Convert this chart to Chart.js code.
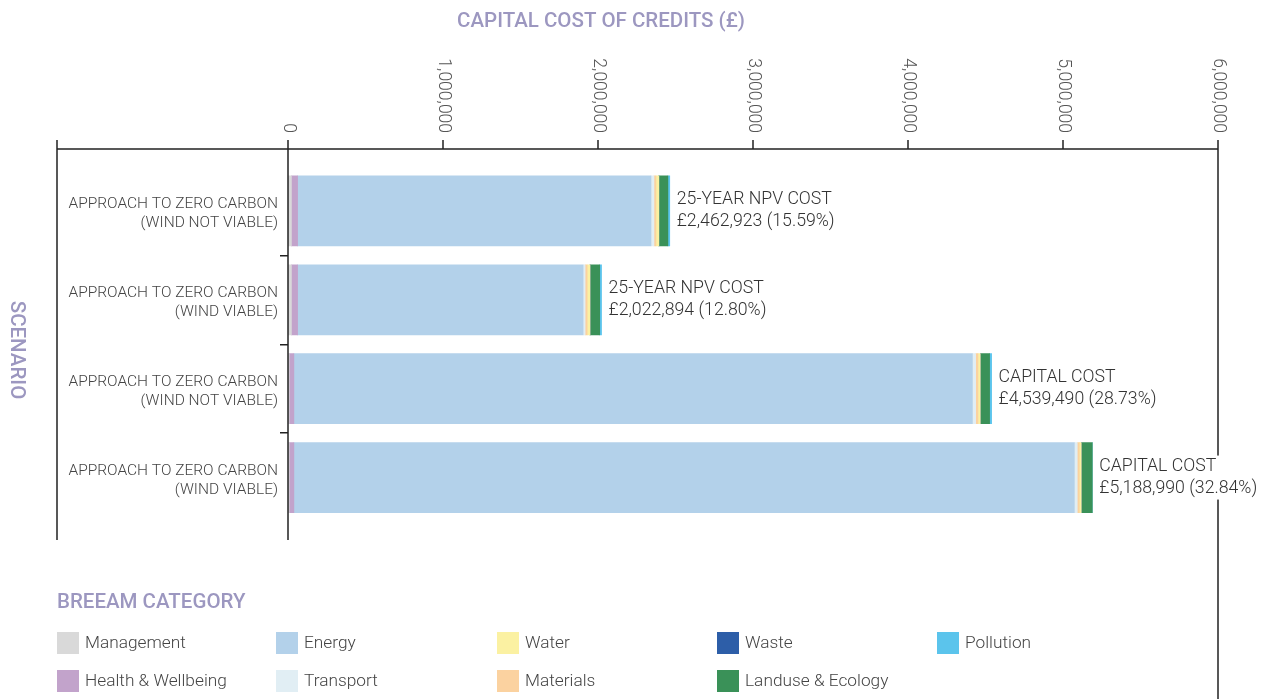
<!DOCTYPE html>
<html>
<head>
<meta charset="utf-8">
<script src="https://cdn.jsdelivr.net/npm/chart.js@4"></script>
<style>
  html, body { margin: 0; padding: 0; background: #fff; }
  #wrap { width: 1261px; height: 699px; position: relative; }
</style>
</head>
<body>
<div id="wrap"><canvas id="costChart"></canvas></div>
<script>
// scenarios (one bar each)
const categories = [
  ['APPROACH TO ZERO CARBON', '(WIND NOT VIABLE)'],
  ['APPROACH TO ZERO CARBON', '(WIND VIABLE)'],
  ['APPROACH TO ZERO CARBON', '(WIND NOT VIABLE)'],
  ['APPROACH TO ZERO CARBON', '(WIND VIABLE)']
];

// BREEAM category costs (£)
const management = [22000, 22000, 8000, 8000];
const health = [40000, 40000, 30000, 30000];
const energy = [2279923, 1841894, 4377490, 5034990];
const transport = [19000, 13000, 21000, 19000];
const materials = [13000, 13000, 15000, 13000];
const water = [19000, 19000, 15000, 13000];
const waste = [0, 0, 0, 0];
const landuse = [58000, 62000, 60000, 71000];
const pollution = [12000, 12000, 13000, 0];

// bar end labels
const totals = [2462923, 2022894, 4539490, 5188990];
const costTypes = ['25-YEAR NPV COST', '25-YEAR NPV COST', 'CAPITAL COST', 'CAPITAL COST'];
const shares = ['15.59%', '12.80%', '28.73%', '32.84%'];

const xTicks = [0, 1000000, 2000000, 3000000, 4000000, 5000000, 6000000];

const lavender = '#9c97c0';
const textGrey = '#444';
const lineCol = '#222';
const FONT = 'Roboto, "Open Sans", sans-serif';

// stack order as drawn in the bars
const datasets = [
  { label: 'Management', data: management, backgroundColor: '#d9d9d9' },
  { label: 'Health & Wellbeing', data: health, backgroundColor: '#c2a3cb' },
  { label: 'Energy', data: energy, backgroundColor: '#b3d1ea' },
  { label: 'Transport', data: transport, backgroundColor: '#e1eef4' },
  { label: 'Materials', data: materials, backgroundColor: '#fbd2a0' },
  { label: 'Water', data: water, backgroundColor: '#fbf1a2' },
  { label: 'Waste', data: waste, backgroundColor: '#2d5ea8' },
  { label: 'Landuse & Ecology', data: landuse, backgroundColor: '#3a9158' },
  { label: 'Pollution', data: pollution, backgroundColor: '#5bc4ec' }
];
datasets.forEach(d => { d.barThickness = 70; d.borderWidth = 0; });

// legend layout, column-major like the original
const legendOrder = ['Management', 'Health & Wellbeing', 'Energy', 'Transport', 'Water',
  'Materials', 'Waste', 'Landuse & Ecology', 'Pollution'];

const fmt = n => n.toLocaleString('en-GB');

const decorPlugin = {
  id: 'decor',
  afterDraw(chart) {
    const ctx = chart.ctx;
    const xs = chart.scales.x;
    const ys = chart.scales.y;
    const left = 57, axisY = 149;
    const x0 = xs.getPixelForValue(0);
    const xMax = xs.getPixelForValue(6000000);

    ctx.save();
    // axis frame
    ctx.strokeStyle = lineCol;
    ctx.lineWidth = 1.5;
    ctx.beginPath();
    ctx.moveTo(left, axisY); ctx.lineTo(xMax, axisY);
    ctx.moveTo(left, 140); ctx.lineTo(left, 540);
    ctx.moveTo(x0, 140); ctx.lineTo(x0, 540);
    ctx.moveTo(xMax, 140); ctx.lineTo(xMax, 699);
    xTicks.slice(1, -1).forEach(v => {
      const px = xs.getPixelForValue(v);
      ctx.moveTo(px, 140); ctx.lineTo(px, axisY);
    });
    ctx.stroke();

    // rotated x tick labels
    ctx.fillStyle = '#555';
    ctx.font = '300 17.5px ' + FONT;
    ctx.textAlign = 'right';
    ctx.textBaseline = 'middle';
    xTicks.forEach(v => {
      ctx.save();
      ctx.translate(xs.getPixelForValue(v), 133);
      ctx.rotate(Math.PI / 2);
      ctx.fillText(fmt(v), 0, 0);
      ctx.restore();
    });

    // titles
    ctx.fillStyle = lavender;
    ctx.font = '500 20.5px ' + FONT;
    ctx.textAlign = 'center';
    ctx.fillText('CAPITAL COST OF CREDITS (£)', 601, 22);
    ctx.save();
    ctx.translate(16, 350);
    ctx.rotate(Math.PI / 2);
    ctx.fillText('SCENARIO', 0, 0);
    ctx.restore();

    // bar end annotations (white box behind so the frame line is masked)
    ctx.font = '300 17.7px ' + FONT;
    ctx.textAlign = 'left';
    totals.forEach((t, i) => {
      const px = xs.getPixelForValue(t) + 7;
      const py = ys.getPixelForValue(i);
      const l1 = costTypes[i];
      const l2 = '£' + fmt(t) + ' (' + shares[i] + ')';
      const w = Math.max(ctx.measureText(l1).width, ctx.measureText(l2).width);
      ctx.fillStyle = '#fff';
      ctx.fillRect(px - 2, py - 22, w + 4, 44);
      ctx.fillStyle = '#333';
      ctx.fillText(l1, px, py - 11);
      ctx.fillText(l2, px, py + 11);
    });

    // legend
    ctx.fillStyle = lavender;
    ctx.font = '500 20.5px ' + FONT;
    ctx.fillText('BREEAM CATEGORY', left, 603);
    const cols = [57, 276, 497, 717, 937];
    const rows = [643, 681];
    ctx.font = '300 17.3px ' + FONT;
    legendOrder.forEach((name, k) => {
      const ds = chart.data.datasets.find(d => d.label === name);
      const col = Math.floor(k / 2), row = k % 2;
      const lx = cols[col], ly = rows[row];
      ctx.fillStyle = ds.backgroundColor;
      ctx.fillRect(lx, ly - 11, 22, 22);
      ctx.fillStyle = textGrey;
      ctx.fillText(name, lx + 28, ly + 1);
    });
    ctx.restore();
  }
};

new Chart(document.getElementById('costChart'), {
  type: 'bar',
  data: { labels: categories, datasets: datasets },
  options: {
    indexAxis: 'y',
    responsive: true,
    maintainAspectRatio: false,
    animation: false,
    layout: { padding: { left: 0, top: 0, right: 43, bottom: 177 } },
    plugins: { legend: { display: false }, tooltip: { enabled: false }, title: { display: false } },
    scales: {
      x: {
        type: 'linear',
        position: 'top',
        stacked: true,
        min: 0,
        max: 6000000,
        ticks: { display: false },
        grid: { display: false },
        border: { display: false },
        afterFit(scale) { scale.height = 166.5; }
      },
      y: {
        stacked: true,
        offset: true,
        border: { display: false },
        grid: {
          drawOnChartArea: false,
          offset: true,
          tickLength: 8,
          lineWidth: 1.5,
          color: c => (c.type !== 'tick' || c.index === 0) ? 'rgba(0,0,0,0)' : lineCol
        },
        ticks: {
          padding: 2,
          labelOffset: 3,
          color: textGrey,
          font: { family: FONT, size: 15.5, weight: '300', lineHeight: 1.22 }
        },
        afterFit(scale) { scale.width = 288; }
      }
    }
  },
  plugins: [decorPlugin]
});
</script>
</body>
</html>
